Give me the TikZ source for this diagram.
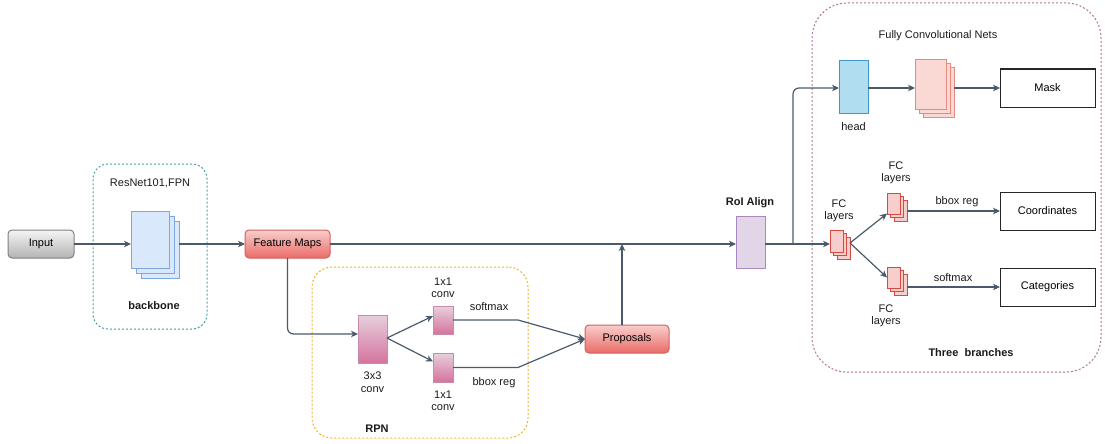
\documentclass[tikz,border=0pt]{standalone}
\usepackage{fontspec}
\setmainfont{Liberation Sans}
\usetikzlibrary{arrows.meta,shadows,calc}

\definecolor{linec}{HTML}{4A5A6B}
\definecolor{txtc}{HTML}{1A1A1A}
\definecolor{bbc}{HTML}{4B9BA8}
\definecolor{rpnc}{HTML}{F0B429}
\definecolor{brc}{HTML}{B5739D}
\definecolor{pagefill}{HTML}{DAE8FC}
\definecolor{pagedraw}{HTML}{7EA6E0}
\definecolor{headfill}{HTML}{B1DDF0}
\definecolor{headdraw}{HTML}{3E97C4}
\definecolor{fcnfill}{HTML}{FAD9D5}
\definecolor{fcndraw}{HTML}{E88A80}
\definecolor{fcfill}{HTML}{F8CECC}
\definecolor{fcdraw}{HTML}{D9493F}
\definecolor{roifill}{HTML}{E1D5E7}
\definecolor{roidraw}{HTML}{A987BF}
\definecolor{redtop}{HTML}{F8CECC}
\definecolor{redbot}{HTML}{EA6B66}
\definecolor{reddraw}{HTML}{D0635F}
\definecolor{pinktop}{HTML}{E6D0DE}
\definecolor{pinkbot}{HTML}{D5739D}
\definecolor{pinkdraw}{HTML}{C98AAE}
\definecolor{greytop}{HTML}{F5F5F5}
\definecolor{greybot}{HTML}{B3B3B3}
\definecolor{greydraw}{HTML}{808080}

\tikzset{
  box/.style={rectangle, inner sep=0pt, outer sep=0pt, line width=1pt},
  grp/.style={box, draw=#1, dash pattern=on 2pt off 2pt},
  redbox/.style={box, rounded corners=4pt, draw=reddraw, top color=redtop, bottom color=redbot,
                 minimum height=28pt},
  convbox/.style={box, draw=pinkdraw, top color=pinktop, bottom color=pinkbot},
  outbox/.style={box, draw=black!85, fill=white, minimum width=95pt, minimum height=38pt},
  pagestack/.style n args={4}{box, fill=#1, draw=#2,
    copy shadow={shadow xshift=#4, shadow yshift=-#4, fill=#1, draw=#2, line width=1pt},
    copy shadow={shadow xshift=#3, shadow yshift=-#3, fill=#1, draw=#2, line width=1pt}},
  lbl/.style={inner sep=0pt, outer sep=0pt, align=center, text=txtc},
  wire/.style={draw=linec, line width=1.2pt},
  arr/.style={wire, -{Stealth[length=7pt,width=6.5pt,inset=2pt]}},
}

\begin{document}
\begin{tikzpicture}[x=1pt,y=-1pt, font=\fontsize{11}{12.5}\selectfont]
\useasboundingbox (0,0) rectangle (1105,444);

% grouping frames
\node[grp=bbc, rounded corners=15pt, minimum width=114pt, minimum height=165pt] (bbgrp) at (150,246.5) {};
\node[grp=rpnc, rounded corners=20pt, minimum width=216pt, minimum height=171pt] (rpngrp) at (420,352.5) {};
\node[grp=brc, rounded corners=35pt, minimum width=289pt, minimum height=369pt] (brgrp) at (956.5,187.5) {};

% backbone
\node[box, rounded corners=4pt, draw=greydraw, top color=greytop, bottom color=greybot,
      minimum width=66pt, minimum height=28pt] (input) at (41,244) {Input};
\node[pagestack={pagefill}{pagedraw}{5pt}{10pt}, minimum width=38pt, minimum height=57pt] (bb) at (150,239.5) {};
\node[lbl] (bbtitle) at (150,183) {ResNet101,FPN};
\node[lbl, font=\fontsize{11}{12.5}\selectfont\bfseries] (bbname) at (154,306) {backbone};

\node[redbox, minimum width=85pt] (fm) at (287.5,244) {Feature Maps};

% RPN
\node[convbox, minimum width=29pt, minimum height=48pt] (c3) at (372.5,339) {};
\node[convbox, minimum width=20pt, minimum height=28pt] (c1a) at (443,320) {};
\node[convbox, minimum width=20pt, minimum height=29pt] (c1b) at (443,367.5) {};
\node[lbl] (c3lbl) at (372.5,382) {3x3\\conv};
\node[lbl] (c1albl) at (443,288) {1x1\\conv};
\node[lbl] (c1blbl) at (443,401) {1x1\\conv};
\node[lbl] (smx1) at (489,307) {softmax};
\node[lbl] (bbr1) at (494,383) {bbox reg};
\node[lbl, font=\fontsize{11}{12.5}\selectfont\bfseries] (rpnname) at (377,429) {RPN};
\node[redbox, minimum width=84pt] (prop) at (627,339) {Proposals};

% RoI Align
\node[box, draw=roidraw, fill=roifill, minimum width=29pt, minimum height=52pt] (roi) at (750.5,242) {};
\node[lbl, font=\fontsize{11}{12.5}\selectfont\bfseries] (roilbl) at (750,203) {RoI Align};

% mask branch
\node[lbl] (fcntitle) at (938,36) {Fully Convolutional Nets};
\node[box, draw=headdraw, fill=headfill, minimum width=29pt, minimum height=52pt] (head) at (853.5,87) {};
\node[lbl] (headlbl) at (853.5,127) {head};
\node[pagestack={fcnfill}{fcndraw}{4pt}{8pt}, minimum width=31pt, minimum height=49pt] (fcn) at (930.5,84.5) {};
\node[outbox] (mask) at (1047.5,88) {Mask};

% box and class branches
\node[pagestack={fcfill}{fcdraw}{3.5pt}{7pt}, minimum width=13pt, minimum height=22pt] (fc0) at (836.5,241) {};
\node[lbl] (fc0lbl) at (839,211) {FC\\layers};
\node[pagestack={fcfill}{fcdraw}{3.5pt}{7pt}, minimum width=13pt, minimum height=21pt] (fc1) at (893.5,203.5) {};
\node[lbl] (fc1lbl) at (896,173) {FC\\layers};
\node[pagestack={fcfill}{fcdraw}{3.5pt}{7pt}, minimum width=13pt, minimum height=21pt] (fc2) at (893.5,277.5) {};
\node[lbl] (fc2lbl) at (886,316) {FC\\layers};
\node[outbox] (coord) at (1047.5,211) {Coordinates};
\node[outbox] (cat) at (1047.5,287) {Categories};
\node[lbl] (bbr2) at (957,202) {bbox reg};
\node[lbl] (smx2) at (953,278) {softmax};
\node[lbl, font=\fontsize{11}{12.5}\selectfont\bfseries] (brname) at (971,353) {Three\ \ branches};

% junction points
\coordinate (jp) at (622,244);
\coordinate (jr) at (793,244);
\coordinate (ka) at (518,320);
\coordinate (kb) at (518,367.5);

% connectors
\draw[arr] (input.east) -- (input.east -| bb.west);
\draw[arr] ($(bb.east |- fm.west)+(10,0)$) -- (fm.west);
\draw[arr] (fm.east) -- (roi.west |- fm.east);
\draw[arr] (prop.north -| jp) -- (jp);
\draw[arr, rounded corners=6pt] (fm.south) |- ($(c3.west)+(0,-5)$);
\draw[arr] ($(c3.east)+(0,-1)$) -- ($(c1a.west)+(0,-4)$);
\draw[arr] ($(c3.east)+(0,-1)$) -- ($(c1b.west)+(0,-6)$);
\draw[arr] (c1a.east) -- (ka) -- (prop.west);
\draw[arr] (c1b.east) -- (kb) -- (prop.west);
\draw[wire] (roi.east |- jr) -- (jr);
\draw[arr, rounded corners=6pt] (jr) |- (head.west |- 0,88);
\draw[arr] (head.east |- 0,88) -- (fcn.west |- 0,88);
\draw[arr] ($(fcn.east |- 0,88)+(8,0)$) -- (mask.west);
\draw[arr] (jr) -- (fc0.west |- jr);
\draw[arr] ($(fc0.east)+(7,2)$) -- ($(fc1.west)+(0,10)$);
\draw[arr] ($(fc0.east)+(7,2)$) -- (fc2.west);
\draw[arr] ($(fc1.east |- coord.west)+(7,0)$) -- (coord.west);
\draw[arr] ($(fc2.east |- cat.west)+(7,0)$) -- (cat.west);
\end{tikzpicture}
\end{document}
